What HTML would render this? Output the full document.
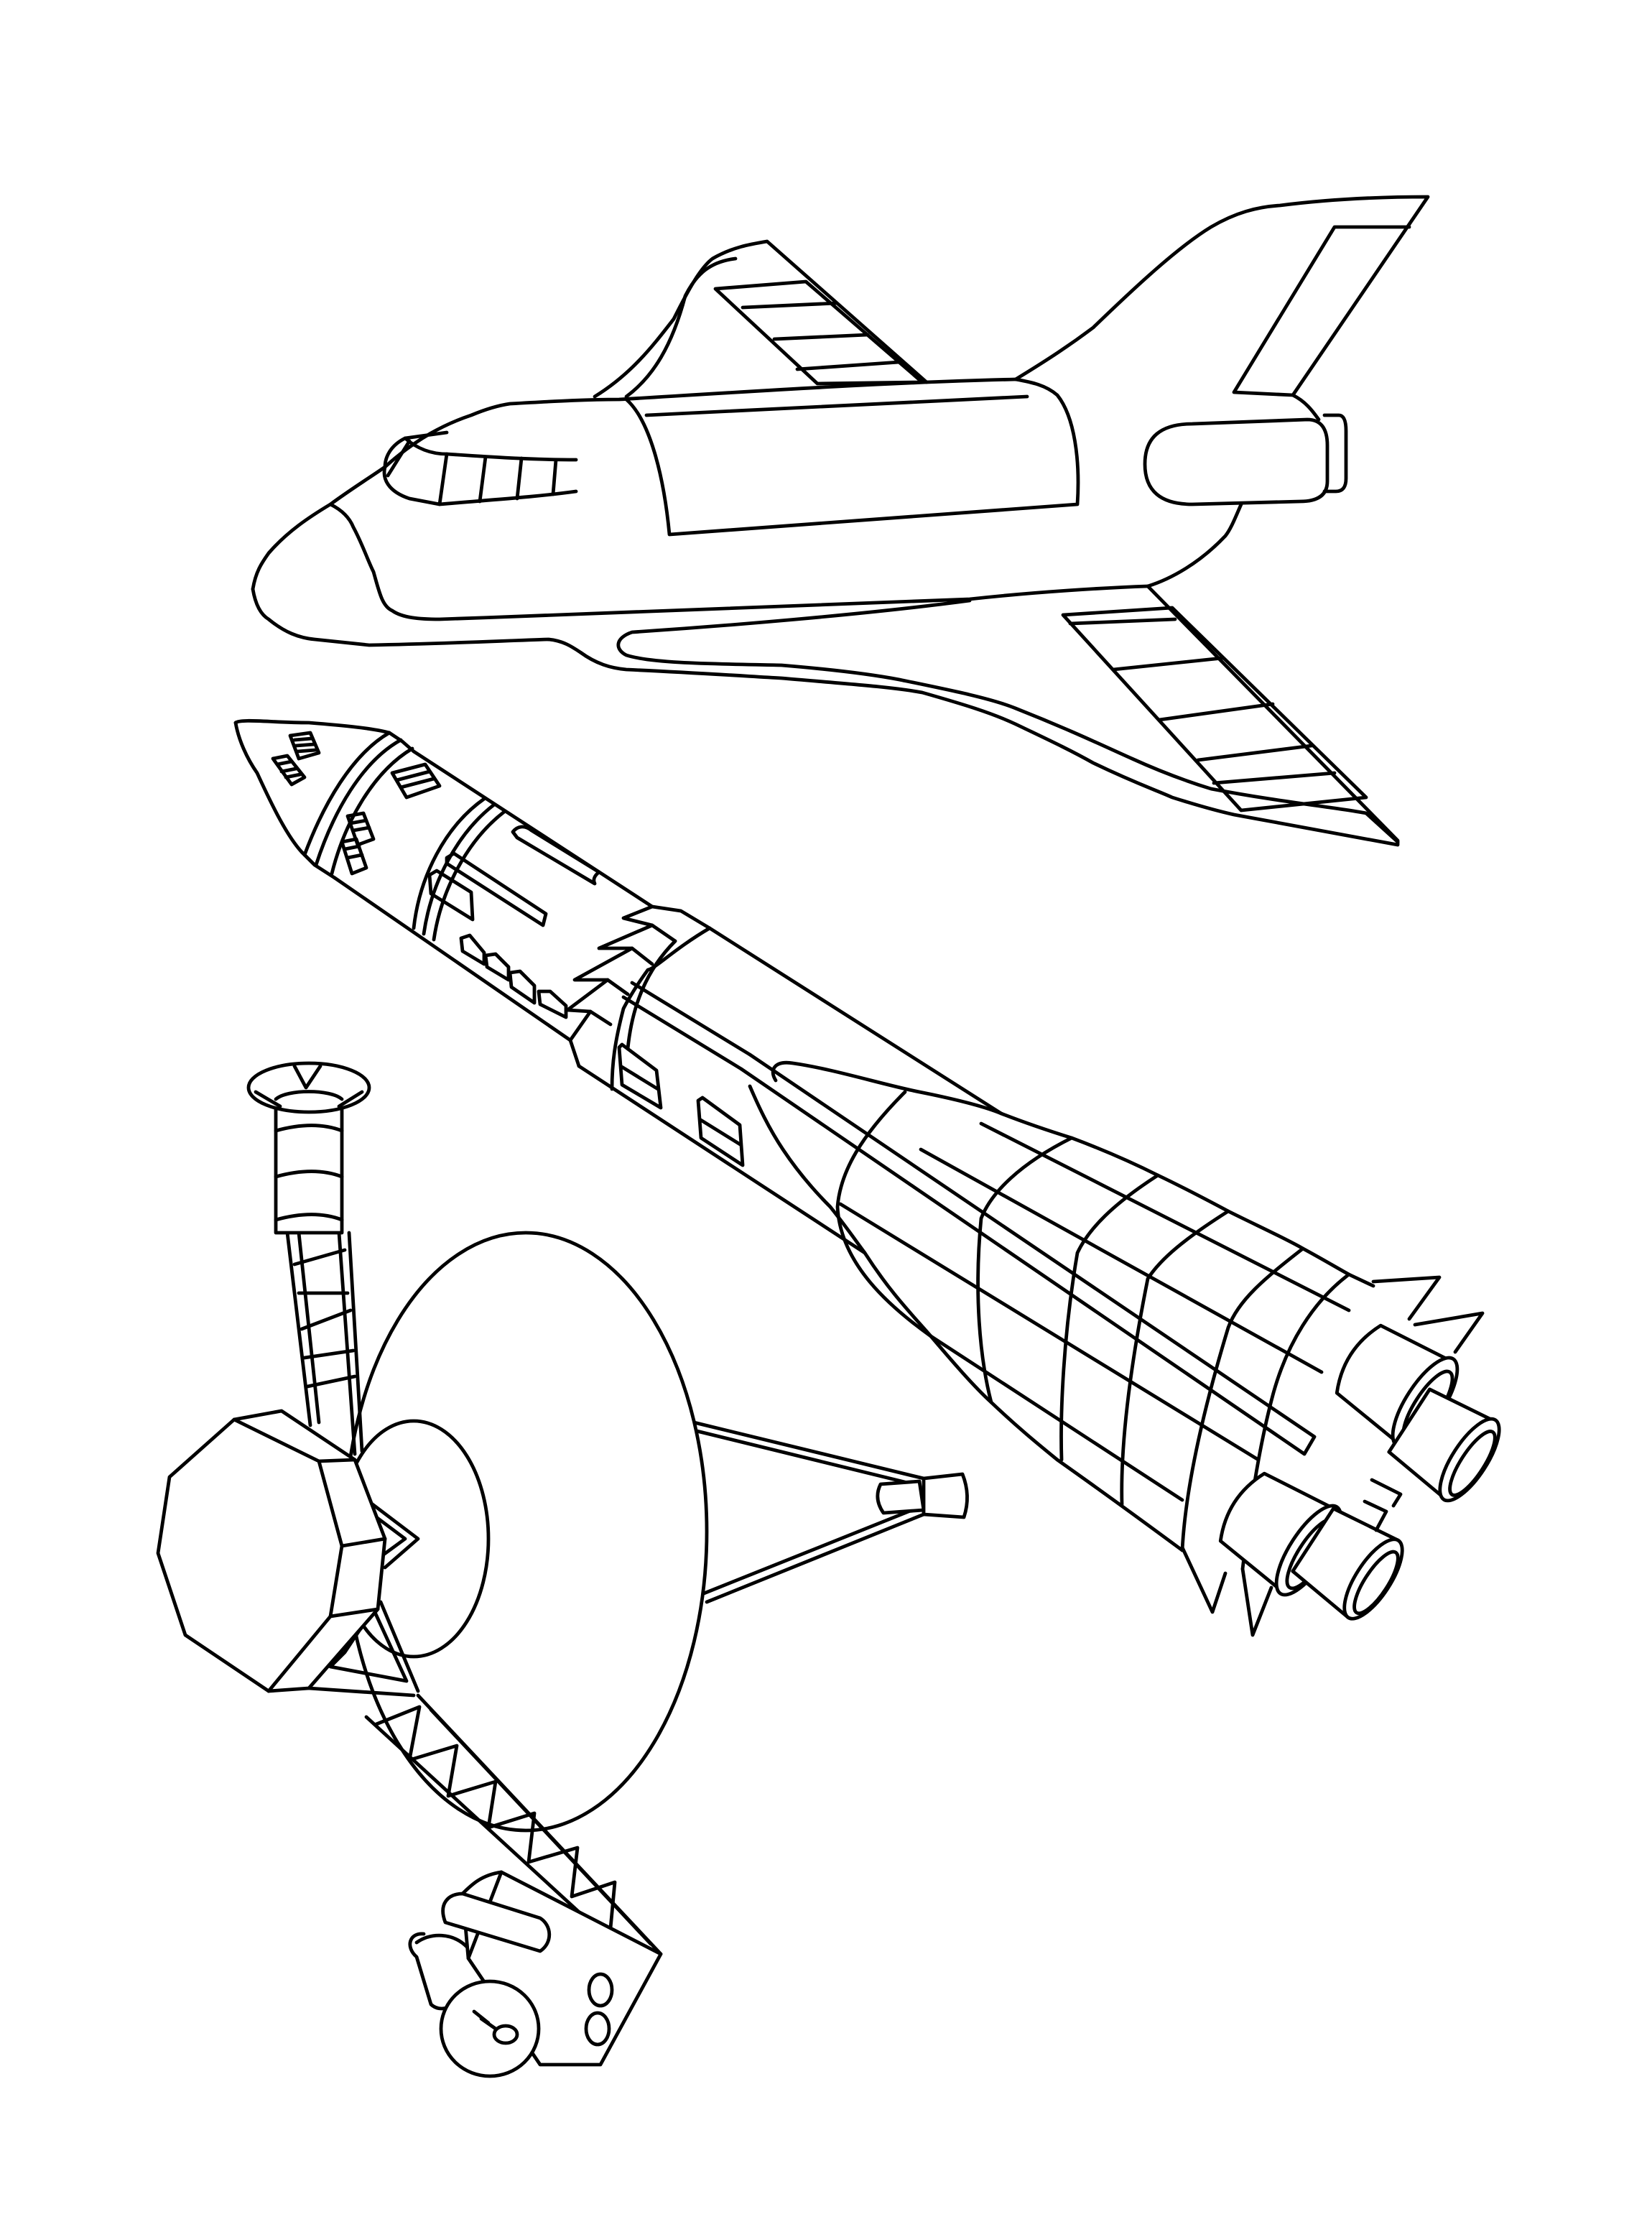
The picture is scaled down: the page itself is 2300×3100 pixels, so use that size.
<!DOCTYPE html>
<html><head><meta charset="utf-8"><style>
html,body{margin:0;padding:0;background:#fff;}
svg{display:block;}
</style></head><body>
<svg width="2300" height="3100" viewBox="0 0 1150 1550" preserveAspectRatio="none" xmlns="http://www.w3.org/2000/svg">
<g fill="none" stroke="#000" stroke-width="2.4" stroke-linejoin="round" stroke-linecap="round">

<!-- ===== SHUTTLE ===== -->
<!-- lower body / wing outline -->
<path d="M176,410 C178,422 182,428 187,431 C198,440 208,444 219,445 L257,449 C310,448 350,446 382,445 C392,446 398,450 404,454 C415,462 425,465 436,466 C480,468 510,470 544,472 C590,476 620,478 642,482 C670,490 690,496 707,504 C730,515 745,522 761,531 C790,545 805,550 816,555 C835,561 850,565 859,567 L973,588 L973,585 L799,408"/>
<!-- slot -->
<path d="M675,418 C600,428 500,436 440,440 C428,444 428,452 436,456 C455,462 500,462 544,463 C580,466 605,469 626,473 C660,480 690,486 707,493 C745,508 770,520 788,528 C810,538 830,545 843,549 C890,558 930,562 951,566 L973,586"/>
<!-- body bottom line -->
<path d="M230,351 C240,356 244,362 246,367 C252,378 256,390 260,398 C264,412 266,422 273,425 C280,430 292,431 306,431 C450,426 600,420 675,417 C720,412 770,409 799,408"/>
<!-- lower wing elevon -->
<path d="M740,428 L816,423 L951,555 L864,564 Z"/>
<path d="M745,434 L818,431 M775,466 L851,458 M807,501 L886,490 M834,529 L913,519 M845,545 L929,538"/>
<!-- upper body -->
<path d="M176,410 C178,398 182,392 187,385 C200,370 215,360 230,351 C245,340 258,332 268,325 C290,305 310,295 328,289 C340,284 348,282 355,281 C390,279 410,278 431,278 C530,272 620,266 707,264"/>
<!-- upper wing -->
<path d="M414,276 C440,260 455,240 469,222 C480,200 488,186 496,180 C510,172 522,170 534,168 L645,266"/>
<path d="M436,276 C455,262 468,240 477,206 C485,190 495,182 512,180"/>
<path d="M498,201 L561,196 L642,266 L569,267 Z"/>
<path d="M517,214 L582,211 M539,236 L604,233 M555,257 L626,252"/>
<!-- tail -->
<path d="M707,264 C730,250 745,240 761,228 C790,200 820,172 843,158 C860,148 875,144 891,143 C930,138 965,137 994,137 L900,275"/>
<path d="M981,158 L929,158 L859,273 L900,275 C910,280 915,288 918,292"/>
<!-- engine pod -->
<path d="M830,295 L910,292 Q924,292 924,310 L924,335 Q924,349 905,349 L830,351 Q797,351 797,323 Q797,295 830,295 Z"/>
<path d="M922,289 L932,289 Q937,289 937,300 L937,333 Q937,342 930,342 L922,342"/>
<!-- rear body -->
<path d="M864,351 C860,360 857,368 853,373 C835,392 815,403 799,408"/>
<!-- bay -->
<path d="M436,278 C452,292 462,330 466,372 L750,351 C752,320 748,290 736,275 C728,268 718,266 707,264"/>
<path d="M450,289 L715,276"/>
<!-- cockpit -->
<path d="M268,325 C268,318 272,310 282,305 L311,301"/>
<path d="M268,325 C266,333 270,342 285,347 L306,351 C340,348 372,346 401,342"/>
<path d="M282,305 C290,312 300,316 311,316 C340,318 370,320 401,320"/>
<path d="M311,316 L306,351 M338,318 L334,349 M363,319 L360,347 M387,320 L385,344"/>
<path d="M270,331 L285,307"/>

<!-- ===== ROCKET ===== -->
<!-- nose cone -->
<path d="M164,503 C168,500 190,503 215,503 C240,505 260,507 271,510 L280,516 L288,523"/>
<path d="M164,503 C166,515 172,528 179,538 C190,562 200,582 210,593 L219,602 L233,611"/>
<path d="M271,510 C245,525 225,560 212,595"/>
<path d="M279,515 C252,530 232,565 220,602"/>
<path d="M287,521 C260,537 240,572 231,608"/>
<!-- main cylinder upper & lower -->
<path d="M288,523 L454,631 L474,634 L494,646 L697,775"/>
<path d="M233,611 L397,724"/>
<!-- second band -->
<path d="M337,556 C310,575 292,610 288,646"/>
<path d="M344,560 C318,580 300,615 295,650"/>
<path d="M351,565 C325,585 307,620 302,654"/>
<!-- serration teeth -->
<path d="M454,631 L434,639 L454,644 L470,655"/>
<path d="M454,644 L417,660 L440,660 L454,671"/>
<path d="M440,660 L400,682 L423,682 L437,692"/>
<path d="M423,682 L395,703 L411,704 L425,713"/>
<path d="M411,704 L397,724 L403,742"/>
<!-- booster ring arc -->
<path d="M494,646 C470,660 455,675 451,675 C440,690 434,702 434,702 C428,725 426,740 426,758"/>
<path d="M470,655 C450,675 440,700 437,730"/>
<!-- core lower edge -->
<path d="M403,742 L602,872"/>
<!-- nose windows -->
<path d="M202,512 L216,510 L222,524 L208,528 Z M205,515 L217,514 M206,519 L219,518 M207,523 L220,522"/>
<path d="M190,528 L200,526 L212,541 L203,546 Z M193,532 L203,530 M196,537 L206,535 M199,541 L209,539"/>
<path d="M273,538 L296,532 L306,547 L283,555 Z M276,543 L299,537 M279,548 L302,542"/>
<path d="M242,568 L253,566 L260,584 L249,588 Z M244,573 L255,571 M246,578 L257,576"/>
<path d="M238,586 L248,584 L255,604 L245,608 Z M240,591 L250,589 M242,597 L252,595"/>
<!-- slots -->
<path d="M357,579 C360,575 365,574 370,578 L417,607 C413,610 413,613 414,615 L360,583 Z"/>
<path d="M311,597 L316,594 L380,636 L378,644 L311,601 Z"/>
<path d="M299,609 L304,606 L328,621 L329,640 L300,622 Z"/>
<path d="M321,653 L327,651 L337,663 L337,671 L322,662 Z"/>
<path d="M338,665 L345,664 L354,673 L354,682 L339,673 Z"/>
<path d="M355,677 L362,676 L372,686 L372,698 L356,687 Z"/>
<path d="M375,690 L383,690 L394,700 L394,708 L376,699 Z"/>
<!-- booster windows -->
<path d="M431,729 L433,727 L457,745 L460,771 L433,755 Z M432,742 L458,758"/>
<path d="M486,766 L489,764 L515,783 L517,811 L488,792 Z M487,779 L516,797"/>
<!-- upper booster nose lobe -->
<path d="M540,752 C535,744 540,738 552,740 C580,744 615,755 640,760 C665,765 685,770 697,775"/>
<!-- lower booster nose & outer lower edge -->
<path d="M522,756 C528,770 535,785 545,800 C555,815 566,828 578,840 C590,855 596,864 602,872 C620,900 635,915 648,930 C665,950 678,965 690,976 C710,995 725,1007 736,1016 C770,1040 800,1062 823,1079"/>
<!-- booster upper outline -->
<path d="M697,775 C715,782 730,787 746,792 C770,801 790,810 806,818 C825,827 840,835 855,843 C875,853 895,862 907,869 C920,876 930,882 939,887 L956,895"/>
<!-- fins -->
<path d="M956,892 L1002,889 L981,918"/>
<path d="M985,922 L1032,914 L1013,941"/>
<path d="M823,1077 L844,1122 L853,1095"/>
<path d="M865,1092 L872,1138 L885,1105"/>
<!-- grid arcs -->
<path d="M630,760 C600,790 585,815 583,840 C585,880 620,910 648,930"/>
<path d="M746,792 C710,810 690,830 683,848 C678,900 682,945 690,976"/>
<path d="M806,818 C775,838 758,855 750,872 C740,930 738,985 739,1016"/>
<path d="M855,843 C825,862 808,876 799,890 C785,960 780,1010 781,1047"/>
<path d="M907,869 C880,890 862,905 855,924 C835,990 825,1040 823,1079"/>
<!-- longitudinal lines -->
<path d="M683,782 L939,912"/>
<path d="M641,800 L920,955"/>
<path d="M585,838 L876,1016"/>
<path d="M648,930 L823,1044"/>
<!-- rod -->
<path d="M522,734 L915,1000 L908,1012 L516,744"/>
<path d="M440,684 L522,734 M434,694 L516,744"/>
<!-- rear -->
<path d="M939,887 C915,905 895,935 885,975 C876,1010 870,1050 865,1092"/>
<!-- nozzles -->
<g fill="#fff">
<g transform="translate(992,976) rotate(33)">
<path d="M-55,-28 L0,-34 L0,34 L-55,28 Q-68,0 -55,-28 Z"/>
<ellipse cx="0" cy="0" rx="13" ry="36"/><ellipse cx="3" cy="1" rx="9" ry="28"/>
</g>
<g transform="translate(1023,1016) rotate(33)">
<path d="M-50,-26 L0,-32 L0,32 L-50,26 Z"/>
<ellipse cx="0" cy="0" rx="12" ry="33"/><ellipse cx="3" cy="1" rx="8" ry="26"/>
</g>
<g transform="translate(911,1079) rotate(33)">
<path d="M-55,-28 L0,-34 L0,34 L-55,28 Q-68,0 -55,-28 Z"/>
<ellipse cx="0" cy="0" rx="13" ry="36"/><ellipse cx="3" cy="1" rx="9" ry="28"/>
</g>
<g transform="translate(956,1099) rotate(33)">
<path d="M-50,-26 L0,-32 L0,32 L-50,26 Z"/>
<ellipse cx="0" cy="0" rx="12" ry="32"/><ellipse cx="3" cy="1" rx="8" ry="25"/>
</g>
</g>
<path d="M955,1030 L975,1040 L970,1048 M950,1045 L965,1052 L958,1065"/>

<!-- ===== SATELLITE ===== -->
<!-- feed struts -->
<path d="M483,990 L643,1029 M485,996 L640,1034"/>
<path d="M492,1115 L643,1054 M490,1109 L640,1049"/>
<!-- dish -->
<ellipse cx="366" cy="1066" rx="126" ry="208" fill="#fff"/>
<!-- feed -->
<path d="M613,1033 L640,1031 L643,1051 L615,1053 Q608,1043 613,1033 Z" fill="#fff"/>
<path d="M643,1029 L670,1026 Q676,1041 671,1056 L643,1054 Z" fill="#fff"/>
<!-- hub -->
<ellipse cx="288" cy="1071" rx="52" ry="82" fill="#fff"/>
<!-- truss to hub -->
<path d="M258,1046 L291,1071 L268,1091 M262,1056 L282,1071 L267,1082"/>
<!-- vertical truss -->
<path d="M200,858 L216,992 M208,858 L222,990 M236,858 L247,1012 M243,858 L252,1010"/>
<path d="M205,880 L240,870 M208,900 L242,900 M210,925 L244,912 M212,945 L246,940 M214,965 L247,958"/>
<!-- antenna neck -->
<path d="M192,763 L238,763 L238,858 L192,858 Z" fill="#fff"/>
<path d="M192,787 C210,782 225,782 238,787 M192,819 C210,814 225,814 238,819 M192,849 C210,844 225,844 238,849"/>
<!-- antenna dish -->
<ellipse cx="215" cy="757" rx="42" ry="17" fill="#fff"/>
<path d="M205,742 L213,757 L223,742 M178,760 L195,770 M252,760 L236,770"/>
<path d="M192,765 C200,758 230,758 238,765" />
<!-- lower boom -->
<path d="M291,1180 L460,1360 L448,1372 L255,1195"/>
<path d="M300,1190 L453,1353"/>
<path d="M262,1200 L292,1188 L285,1225 L318,1215 L312,1250 L345,1240 L340,1272 L372,1262 L368,1296 L402,1286 L398,1320 L428,1310 L425,1342"/>
<!-- bracing octagon to junction -->
<path d="M215,1175 L288,1180 M230,1160 L283,1170 L260,1120 L240,1150 Z M265,1115 L291,1177"/>
<!-- octagon prism -->
<path d="M163,988 L196,982 L247,1016 L268,1071 L263,1120 L215,1175 L187,1177" fill="#fff"/>
<path d="M118,1028 L163,988 L222,1017 L238,1076 L230,1125 L187,1177 L129,1138 L110,1081 Z" fill="#fff"/>
<path d="M222,1017 L247,1016 M238,1076 L268,1071 M230,1125 L263,1120"/>
<!-- camera module -->
<path d="M349,1303 L460,1360 L418,1437 L376,1437 L326,1363 Z" fill="#fff"/>
<path d="M349,1303 C335,1305 328,1312 322,1318 L326,1363"/>
<path d="M322,1318 C312,1318 305,1325 310,1338 L376,1358 C385,1352 384,1340 376,1335 Z" fill="#fff"/>
<path d="M295,1346 C285,1345 282,1355 290,1362 L300,1395 C305,1400 312,1398 318,1395" fill="#fff"/>
<path d="M290,1352 C300,1345 315,1345 325,1355"/>
<ellipse cx="341" cy="1412" rx="34" ry="33" fill="#fff"/>
<path d="M335,1405 L345,1412 M330,1400 L340,1408"/>
<ellipse cx="352" cy="1416" rx="8" ry="6" fill="#fff"/>
<ellipse cx="418" cy="1385" rx="8" ry="11"/>
<ellipse cx="416" cy="1412" rx="8" ry="11"/>
</g>
</svg>
</body></html>
